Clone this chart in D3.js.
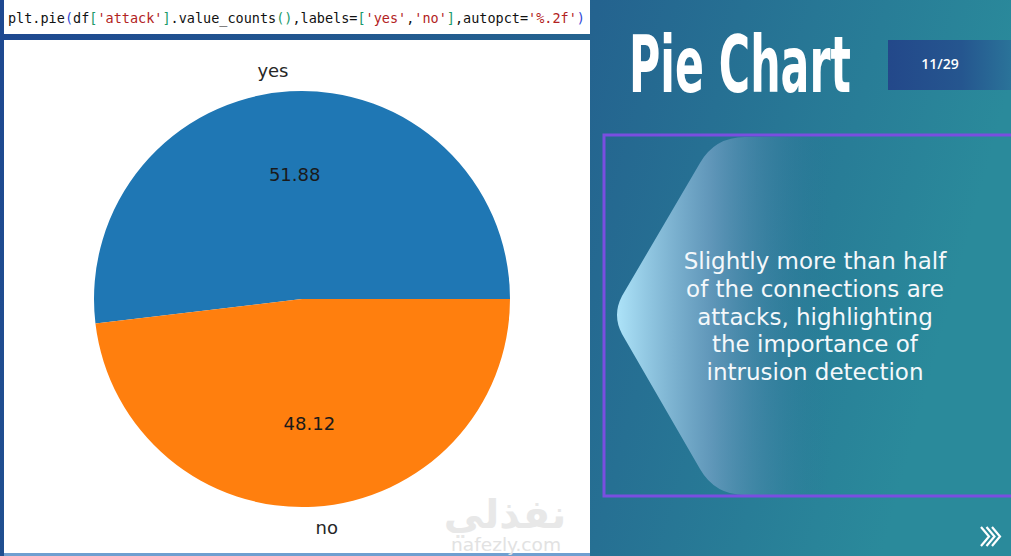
<!DOCTYPE html>
<html>
<head>
<meta charset="utf-8">
<script src="https://cdn.jsdelivr.net/npm/d3@7"></script>
<style>
  html, body { margin: 0; padding: 0; background: #24628f; overflow: hidden; }
  svg { display: block; }
</style>
</head>
<body>
<svg id="chart" width="1011" height="556"></svg>
<script>
// ---- data ----
const categories = ['yes', 'no'];
const percentValues = [51.88, 48.12];
const sliceColors = ['#1f77b4', '#ff7f0e'];
const titleText = 'Pie Chart';
const pageText = '11/29';
const noteLines = [
  'Slightly more than half',
  'of the connections are',
  'attacks, highlighting',
  'the importance of',
  'intrusion detection'
];
const codeTokens = [
  ['plt.pie', '#111'], ['(', '#3048d8'], ['df', '#111'], ['[', '#1a9a6a'],
  ["'attack'", '#b22222'], [']', '#1a9a6a'], ['.value_counts', '#111'], ['()', '#1a9a6a'],
  [',labels=', '#111'], ['[', '#1a9a6a'], ["'yes'", '#b22222'], [',', '#111'],
  ["'no'", '#b22222'], [']', '#1a9a6a'], [',autopct=', '#111'], ["'%.2f'", '#b22222'],
  [')', '#3048d8']
];

const W = 1011, H = 556;
const svg = d3.select('#chart');
const defs = svg.append('defs');

// background gradient
const bg = defs.append('linearGradient').attr('id', 'bg')
  .attr('x1', 0).attr('y1', 0).attr('x2', 1).attr('y2', 0.15);
bg.append('stop').attr('offset', '0%').attr('stop-color', '#1e4890');
bg.append('stop').attr('offset', '58%').attr('stop-color', '#24638f');
bg.append('stop').attr('offset', '100%').attr('stop-color', '#2a8a9b');
svg.append('rect').attr('width', W).attr('height', H).attr('fill', 'url(#bg)');

// left white panels
svg.append('rect').attr('x', 4).attr('y', 0).attr('width', 586).attr('height', 34).attr('fill', '#ffffff');
svg.append('rect').attr('x', 4).attr('y', 40).attr('width', 586).attr('height', 513).attr('fill', '#ffffff');
svg.append('rect').attr('x', 4).attr('y', 553).attr('width', 586).attr('height', 3).attr('fill', '#6f9fd0');

// code line
const code = svg.append('text').attr('x', 8).attr('y', 23)
  .attr('font-family', 'DejaVu Sans Mono, monospace').attr('font-size', 13.5)
  .attr('textLength', 577).attr('lengthAdjust', 'spacingAndGlyphs');
codeTokens.forEach(([t, c]) => code.append('tspan').attr('fill', c).text(t));

// ---- pie ----
const cx = 302, cy = 299, R = 208;
const color = d3.scaleOrdinal().domain(categories).range(sliceColors);
const pie = d3.pie().sort(null)
  .startAngle(Math.PI / 2).endAngle(Math.PI / 2 - 2 * Math.PI);
const arcs = pie(percentValues);
const arc = d3.arc().innerRadius(0).outerRadius(R);
const g = svg.append('g').attr('transform', `translate(${cx},${cy})`);
g.selectAll('path.slice').data(arcs).enter().append('path')
  .attr('class', 'slice')
  .attr('d', arc)
  .attr('fill', (d, i) => color(categories[i]));

const mid = d => (d.startAngle + d.endAngle) / 2;
const fmt = d3.format('.2f');
// outer labels (1.1 R)
g.selectAll('text.lab').data(arcs).enter().append('text')
  .attr('class', 'lab')
  .attr('x', d => 1.1 * R * Math.sin(mid(d)))
  .attr('y', d => -1.1 * R * Math.cos(mid(d)))
  .attr('text-anchor', d => Math.sin(mid(d)) > 0 ? 'start' : 'end')
  .attr('dominant-baseline', 'central')
  .attr('font-family', 'DejaVu Sans, sans-serif').attr('font-size', 18)
  .attr('fill', '#262626')
  .text((d, i) => categories[i]);
// percentage labels (0.6 R)
g.selectAll('text.pct').data(arcs).enter().append('text')
  .attr('class', 'pct')
  .attr('x', d => 0.6 * R * Math.sin(mid(d)))
  .attr('y', d => -0.6 * R * Math.cos(mid(d)))
  .attr('text-anchor', 'middle')
  .attr('dominant-baseline', 'central')
  .attr('font-family', 'DejaVu Sans, sans-serif').attr('font-size', 18)
  .attr('fill', '#1a1a1a')
  .text(d => fmt(d.data));

// watermark
svg.append('text').attr('x', 505).attr('y', 528).attr('text-anchor', 'middle')
  .attr('font-family', 'DejaVu Sans, sans-serif').attr('font-weight', 'bold').attr('font-size', 40)
  .attr('fill', '#e8e8e8').text('نفذلي');
svg.append('text').attr('x', 506).attr('y', 551).attr('text-anchor', 'middle')
  .attr('font-family', 'DejaVu Sans, sans-serif').attr('font-size', 17)
  .attr('fill', '#e2e2e2').attr('textLength', 110).attr('lengthAdjust', 'spacingAndGlyphs')
  .text('nafezly.com');

// ---- right side ----
// title: fit width 222 by choosing font size, then stretch vertically to cap height ~57
const title = svg.append('text')
  .attr('font-family', 'DejaVu Sans Condensed, DejaVu Sans, sans-serif')
  .attr('font-weight', 'bold').attr('font-size', 78)
  .attr('fill', '#ffffff')
  .text(titleText);
const natW = title.node().getComputedTextLength();
const fs = 78 * 222 / natW;
const sy = 78 / fs;
title.attr('font-size', fs)
  .attr('transform', `translate(629,92) scale(1,${sy})`);

const pg = defs.append('linearGradient').attr('id', 'pg').attr('x1', 0).attr('x2', 1).attr('y1', 0).attr('y2', 0);
pg.append('stop').attr('offset', '0%').attr('stop-color', '#23488a');
pg.append('stop').attr('offset', '60%').attr('stop-color', '#25568f');
pg.append('stop').attr('offset', '100%').attr('stop-color', '#2a7399');
svg.append('rect').attr('x', 888).attr('y', 40).attr('width', 123).attr('height', 50).attr('fill', 'url(#pg)');
svg.append('text').attr('x', 940).attr('y', 69).attr('text-anchor', 'middle')
  .attr('font-family', 'Open Sans, sans-serif').attr('font-weight', 600).attr('font-size', 14)
  .attr('fill', '#ffffff').text(pageText);

// hexagon-like glow shape
const hg = defs.append('linearGradient').attr('id', 'hg')
  .attr('gradientUnits', 'userSpaceOnUse').attr('x1', 614).attr('x2', 830).attr('y1', 0).attr('y2', 0);
hg.append('stop').attr('offset', '0%').attr('stop-color', '#b0e6fb').attr('stop-opacity', 1);
hg.append('stop').attr('offset', '45%').attr('stop-color', '#6e9fc2').attr('stop-opacity', 0.8);
hg.append('stop').attr('offset', '100%').attr('stop-color', '#2a7597').attr('stop-opacity', 0);
const shape = d3.path();
shape.moveTo(1011, 137);
shape.lineTo(745, 137);
shape.quadraticCurveTo(715, 137, 700, 163);
shape.lineTo(622, 296);
shape.quadraticCurveTo(612, 315, 622, 334);
shape.lineTo(700, 469);
shape.quadraticCurveTo(715, 495, 745, 495);
shape.lineTo(1011, 495);
shape.closePath();
svg.append('path').attr('d', shape.toString()).attr('fill', 'url(#hg)');

// purple frame
svg.append('rect').attr('x', 604).attr('y', 135).attr('width', 420).attr('height', 361)
  .attr('fill', 'none').attr('stroke', '#7a4ee0').attr('stroke-width', 3);

// note text
svg.append('g').selectAll('text').data(noteLines).enter().append('text')
  .attr('x', 815).attr('y', (d, i) => 269 + i * 27.8)
  .attr('text-anchor', 'middle')
  .attr('font-family', 'DejaVu Sans, sans-serif').attr('font-size', 23)
  .attr('fill', '#f4f8fb').text(d => d);

// chevrons
svg.append('g').selectAll('path').data([0, 1, 2]).enter().append('path')
  .attr('d', i => { const x = 981 + i * 5.5; return `M${x},527 L${x + 8},536.5 L${x},546`; })
  .attr('fill', 'none').attr('stroke', '#ffffff').attr('stroke-width', 2.2);
</script>
</body>
</html>
